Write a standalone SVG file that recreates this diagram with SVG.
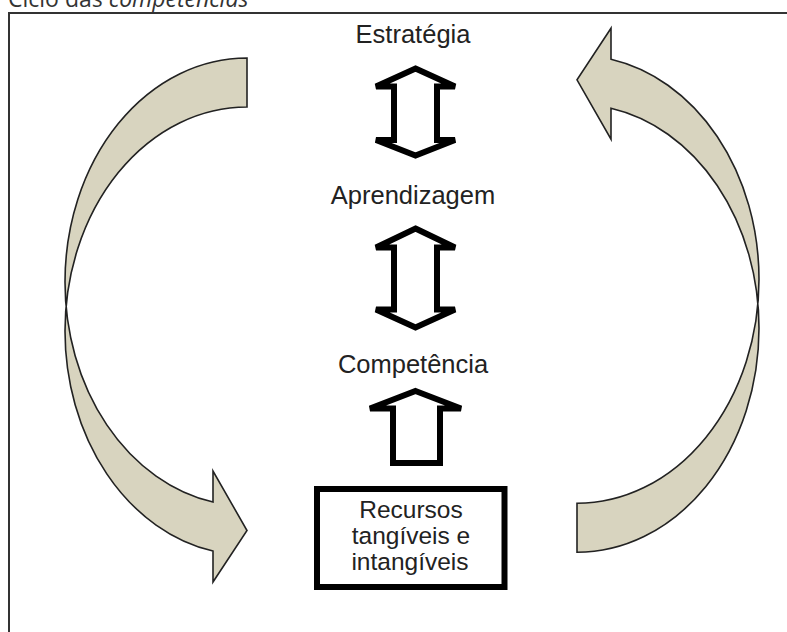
<svg xmlns="http://www.w3.org/2000/svg" xmlns:xlink="http://www.w3.org/1999/xlink" width="787" height="632" viewBox="0 0 787 632">
  <style>
    .lbl { font-family: "Liberation Sans", Arial, sans-serif; font-size: 25.5px; fill: #222; text-anchor: middle; }
    .box { font-family: "Liberation Sans", Arial, sans-serif; font-size: 24.5px; fill: #222; text-anchor: middle; }
    .title { font-family: "Open Sans", "Noto Sans", sans-serif; font-size: 23px; fill: #333; }
    .blk { fill: #fff; stroke: #000; stroke-width: 6; }
    .curve { fill: #d8d4bf; stroke: #222; stroke-width: 1.6; stroke-linejoin: miter; }
    .frame { stroke: #333; stroke-width: 2; fill: none; }
  </style>
  <defs>
    <path id="curvedArrow" d="M 65 282 A 182 224 0 0 0 213 502.06 L 213 471.06 L 247 530.5 L 213 582.06 L 213 551.06 A 182 224 0 0 1 65 331 A 182 224 0 0 1 247 107 L 247 58 A 182 224 0 0 0 65 282 Z"/>
  </defs>
  <rect width="787" height="632" fill="#fff"/>
  <text class="title" x="8" y="7">Ciclo das <tspan font-style="italic">competências</tspan></text>
  <path class="frame" d="M 9 632 L 9 13 L 787 13"/>

  <g id="connectors">
    <use id="curve-left" xlink:href="#curvedArrow" class="curve"/>
    <use id="curve-right" xlink:href="#curvedArrow" class="curve" transform="rotate(180 412 305.15)"/>
    <polygon id="arrow-estrategia-aprendizagem" class="blk" points="415.5,68.5 455,86.5 437,86.5 437,140 455,140 415.5,155.5 376,140 394,140 394,86.5 376,86.5"/>
    <polygon id="arrow-aprendizagem-competencia" class="blk" points="415.5,228.5 455,247.5 437,247.5 437,309.5 455,309.5 415.5,327.5 376,309.5 394,309.5 394,247.5 376,247.5"/>
    <polygon id="arrow-recursos-competencia" class="blk" points="415.5,391 461,408.5 440,408.5 440,463 393,463 393,408.5 370,408.5"/>
  </g>

  <g id="node-estrategia">
    <text class="lbl" x="413" y="43">Estratégia</text>
  </g>
  <g id="node-aprendizagem">
    <text class="lbl" x="413" y="204">Aprendizagem</text>
  </g>
  <g id="node-competencia">
    <text class="lbl" x="413" y="373">Competência</text>
  </g>
  <g id="node-recursos">
    <rect x="317" y="489" width="187.5" height="98" fill="#fff" stroke="#000" stroke-width="6"/>
    <text class="box" x="411" y="518">Recursos</text>
    <text class="box" x="411" y="544">tangíveis e</text>
    <text class="box" x="410" y="570">intangíveis</text>
  </g>
</svg>
